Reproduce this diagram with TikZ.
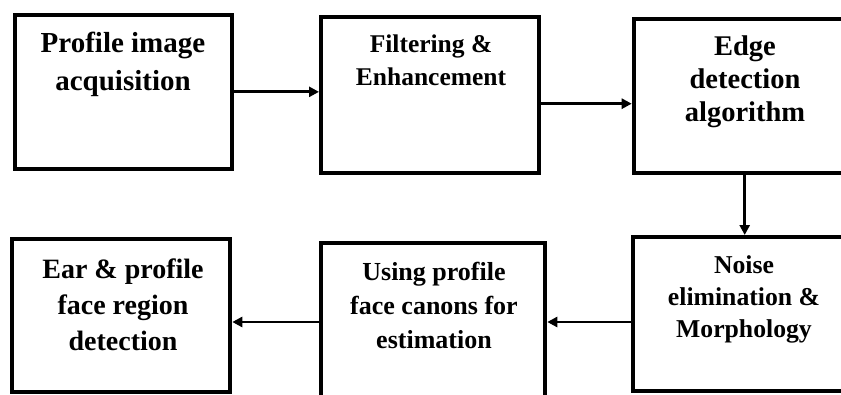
\documentclass[tikz,border=0pt]{standalone}
\usepackage{fontspec}
\setmainfont{Liberation Serif}
\usetikzlibrary{arrows.meta}
\begin{document}
\begin{tikzpicture}[x=1pt,y=-1pt,
  box/.style={draw=black, line width=4pt, inner sep=0pt, fill=none},
  arr/.style={draw=black, line width=2.8pt, -{Triangle[length=10pt,width=10pt]}},
  txt/.style={align=center, inner sep=0pt, anchor=base}]
\useasboundingbox (0,0) rectangle (841,394);
\clip (0,0) rectangle (841,394);
% boxes
\node[box, minimum width=217.3pt, minimum height=154.3pt] (b1) at (123.35,91.85) {};
\node[box, minimum width=217.7pt, minimum height=155.7pt] (b2) at (429.85,94.85) {};
\node[box, minimum width=224.3pt, minimum height=154.3pt] (b3) at (745.85,95.85) {};
\node[box, minimum width=225pt, minimum height=154.3pt] (b4) at (745.5,314.15) {};
\node[box, minimum width=224pt, minimum height=157.3pt] (b5) at (433.3,321.35) {};
\node[box, minimum width=218.3pt, minimum height=152.7pt] (b6) at (121.15,315.65) {};
% texts (anchored at the baseline of the last line)
\node[txt, font=\bfseries\fontsize{29}{38.4}\selectfont] (t1) at (123,90.7) {Profile image\\acquisition};
\node[txt, font=\bfseries\fontsize{25.5}{32.7}\selectfont] (t2) at (431,85) {Filtering \&\\Enhancement};
\node[txt, font=\bfseries\fontsize{28.5}{33}\selectfont] (t3) at (745,121.7) {Edge\\detection\\algorithm};
\node[txt, font=\bfseries\fontsize{25.7}{32}\selectfont] (t4) at (744,337) {Noise\\elimination \&\\Morphology};
\node[txt, font=\bfseries\fontsize{26}{34}\selectfont] (t5) at (434,348) {Using profile\\face canons for\\estimation};
\node[txt, font=\bfseries\fontsize{28}{36}\selectfont] (t6) at (123,350) {Ear \& profile\\face region\\detection};
% connectors
\draw[arr] (b1.east) -- (b1.east -| b2.west);
\draw[arr] (b2.east |- 0,103.7) -- (b3.west |- 0,103.7);
\draw[arr] (b3.south -| 744.7,0) -- (b4.north -| 744.7,0);
\draw[arr] (b4.west |- 0,322) -- (b5.east |- 0,322);
\draw[arr] (b5.west |- 0,322) -- (b6.east |- 0,322);
\end{tikzpicture}
\end{document}
